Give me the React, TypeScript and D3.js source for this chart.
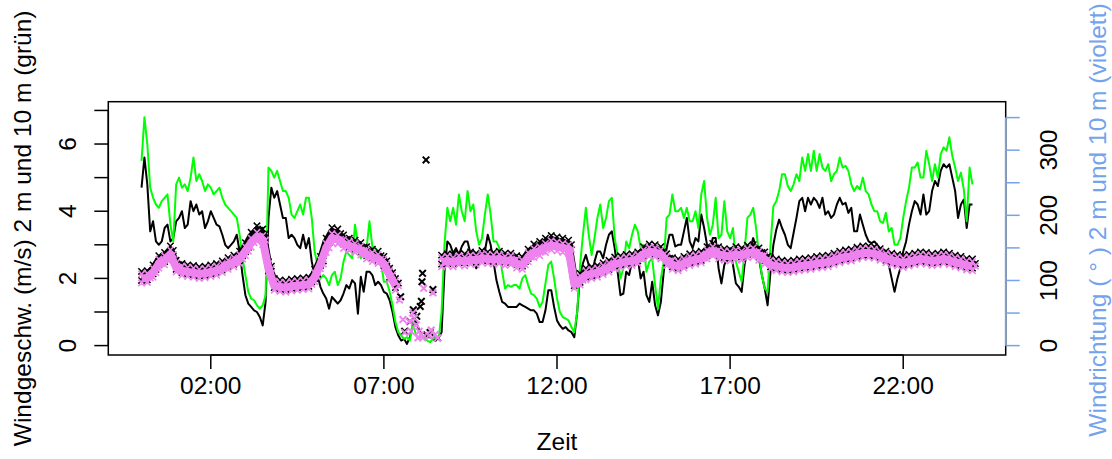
import React from "react";
import * as d3 from "d3";

// Wind speed (m/s), one value every 5 minutes from 00:00 to 24:00
const speedStepMin = 5;
const wind2m: number[] = [
  4.7, 5.6, 4.8, 3.4, 3.7, 3.1, 3.0, 3.1, 3.5, 3.6,
  3.1, 3.2, 3.7, 3.8, 4.0, 3.5, 3.6, 4.3, 4.0, 4.2,
  3.9, 4.0, 3.5, 3.7, 4.0, 3.8, 3.6, 3.55, 3.3, 3.0,
  2.9, 3.0, 3.1, 3.3, 2.8, 2.1, 1.5, 1.25, 1.15, 1.05,
  1.0, 0.85, 0.6, 1.3, 3.8, 4.7, 4.4, 4.6, 4.2, 3.8,
  3.8, 3.2, 3.3, 3.2, 3.0, 2.9, 3.3, 2.9, 3.2, 2.5,
  2.1, 2.1, 1.75, 1.55, 1.4, 1.1, 1.45, 1.35, 1.25, 1.35,
  1.55, 1.8, 1.7, 1.95, 1.85, 0.95, 2.05, 1.6, 2.2, 2.2,
  2.1, 1.8, 1.9, 1.8, 1.6, 1.55, 1.35, 1.0, 0.55, 0.3,
  0.15, 0.2, 0.05, 0.25, 0.6, 0.75, 0.5, 0.35, 0.4, 0.25,
  0.25, 0.2, 0.15, 0.25, 0.4, 2.2, 3.1, 3.0, 2.75, 2.9,
  2.7, 2.95, 3.1, 3.1, 2.75, 2.8, 2.3, 2.5, 2.7, 2.8,
  3.3, 3.0, 2.5, 1.95, 1.6, 1.3, 1.25, 1.15, 1.15, 1.15,
  1.15, 1.25, 1.2, 1.15, 1.1, 1.05, 1.05, 0.95, 0.7, 0.7,
  1.05, 1.65, 1.65, 1.15, 0.75, 0.6, 0.5, 0.55, 0.45, 0.4,
  0.25, 1.0, 2.1, 2.45, 2.7, 2.4, 2.0, 2.5, 2.8, 2.8,
  2.6, 3.0, 3.3, 3.4, 2.9, 2.2, 1.5, 1.55, 2.2, 2.1,
  2.5, 2.7, 2.6, 2.0, 2.2, 1.5, 1.3, 1.9, 1.2, 0.9,
  1.3, 2.2, 2.9, 3.3, 3.3, 2.95, 3.0, 3.0, 3.4, 3.8,
  3.1, 2.9, 3.2, 3.1, 3.9, 3.5, 3.0, 2.85, 3.2, 3.2,
  2.3, 1.85, 2.4, 2.6, 2.9, 2.4, 1.85, 1.75, 1.6, 2.4,
  2.85, 2.9, 3.2, 2.9, 2.6, 2.1, 1.7, 1.2, 2.2, 3.0,
  3.45, 3.75, 3.5, 3.3, 3.0, 2.9, 3.35, 3.8, 4.3, 4.4,
  4.0, 4.4, 4.2, 4.4, 4.3, 4.1, 4.4, 3.9, 4.0, 3.8,
  3.9, 4.2, 4.4, 4.2, 4.25, 3.95, 4.1, 3.4, 3.4, 3.9,
  3.6, 3.3, 3.1, 3.05, 3.1, 3.0, 2.9, 2.8, 2.6, 2.4,
  2.0, 1.6, 2.0, 2.3, 2.8, 3.1, 3.6, 4.0, 4.3, 4.2,
  3.9, 4.5, 3.9, 4.0, 4.6, 4.9, 4.75, 5.2, 5.4, 5.3,
  5.4, 5.0, 4.6, 3.8, 4.2, 4.35, 3.5, 4.2, 4.2,
];
const wind10m: number[] = [
  5.5, 6.8, 6.0, 4.7, 4.4, 4.2, 4.1, 4.3, 4.4, 4.5,
  3.6, 3.1, 4.8, 5.0, 4.7, 4.8, 4.6, 5.0, 5.6, 4.9,
  5.1, 4.9, 4.6, 4.8, 4.7, 4.5, 4.6, 4.7, 4.4, 4.2,
  4.1, 4.0, 3.9, 3.8, 3.3, 2.6, 2.1, 1.6, 1.4, 1.35,
  1.2, 1.1, 1.2, 1.5, 5.3, 5.2, 5.0, 5.2, 4.9, 4.6,
  4.6, 4.4, 3.9, 3.8, 4.0, 4.2, 3.9, 4.4, 4.4, 3.8,
  2.8, 2.4, 2.0, 2.1, 2.0, 1.8, 2.1, 2.2, 1.8, 2.0,
  2.5, 2.8, 2.7, 2.6, 3.6, 3.0, 2.6, 3.0, 2.9, 3.7,
  2.95, 2.9, 2.8, 2.5, 1.9, 1.9, 1.6, 1.2, 0.7, 0.4,
  0.3, 0.2, 0.25, 0.15, 0.7, 0.35, 0.2, 0.3, 0.25, 0.15,
  0.1, 0.2, 0.3, 0.2, 1.0, 3.0, 4.1, 3.7, 4.1, 3.6,
  4.5, 4.0, 3.7, 4.6, 4.0, 4.2, 3.4, 3.0, 3.2, 3.9,
  4.5, 3.9, 3.1, 3.1, 2.9, 2.2, 1.7, 1.8, 1.75, 1.8,
  1.8, 1.7, 2.0, 2.1, 1.8, 1.55, 1.5, 1.4, 1.15, 1.3,
  1.85, 2.4, 2.5, 2.0, 1.4, 1.0, 0.85, 0.8, 0.75, 0.55,
  0.4, 1.0, 2.4, 3.3, 4.1, 3.3, 2.7, 3.2, 3.8, 4.2,
  3.5, 3.8, 4.3, 4.4, 3.2, 2.7, 2.0, 2.3, 3.1, 2.9,
  3.3, 3.6, 3.4, 2.9, 3.0, 2.2, 2.5, 2.6, 1.8, 1.1,
  2.0, 2.5, 3.8, 3.9, 4.5, 4.0, 4.0, 4.1, 3.8, 4.1,
  3.7, 3.7, 4.0, 3.5, 4.5, 4.9, 3.8, 3.3, 3.6, 4.4,
  3.2, 3.3, 4.3, 3.4, 3.2, 3.5, 2.5, 2.2, 1.9, 2.8,
  3.8, 3.9, 4.1, 3.5, 2.7, 2.1, 1.7, 1.6, 3.0, 4.15,
  4.3, 4.6, 5.1, 5.1, 4.75, 4.6, 4.8, 5.1, 4.9, 5.6,
  5.2, 5.7, 5.2, 5.8, 5.2, 5.7, 5.3, 5.2, 5.4, 4.9,
  5.1, 5.2, 5.6, 5.3, 5.35, 5.2, 4.8, 4.6, 4.75, 4.65,
  5.0, 4.6, 4.5, 4.2, 4.0, 4.0, 3.7, 3.65, 3.95, 3.4,
  3.5, 3.0, 3.0, 3.2, 3.8, 4.3, 4.7, 5.3, 5.3, 5.45,
  5.0, 5.0, 5.8, 5.4, 4.9, 5.4, 5.0, 5.7, 5.9, 5.8,
  6.2, 5.65, 5.3, 4.9, 5.15, 4.65, 3.7, 5.3, 4.8,
];

// Wind direction (degrees), one value every 10 minutes; null = scattered period
const dirStepMin = 10;
const dir2m: (number | null)[] = [
  107, 108, 117, 131, 136, 146, 124, 119, 117, 116,
  114, 115, 117, 119, 123, 128, 132, 138, 151, 167,
  177, 172, 122, 96, 94, 93, 95, 96, 97, 98,
  110, 130, 158, 174, 172, 163, 158, 155, 151, 145,
  141, 138, 130, 112, 96, null, null, null, null, null,
  null, null, 132, 134, 133, 135, 134, 137, 135, 139,
  137, 136, 138, 135, 135, 131, 129, 141, 149, 153,
  158, 162, 160, 158, 155, 99, 104, 112, 114, 116,
  120, 124, 129, 131, 133, 134, 137, 145, 149, 148,
  145, 134, 128, 126, 130, 134, 136, 138, 145, 150,
  145, 142, 141, 145, 143, 147, 148, 143, 137, 128,
  126, 124, 123, 124, 126, 127, 128, 130, 131, 132,
  135, 138, 140, 141, 144, 146, 146, 145, 142, 138,
  135, 133, 131, 133, 135, 137, 136, 134, 135, 137,
  135, 132, 130, 127, 126,
];
const dir10m: (number | null)[] = [
  103, 104, 112, 126, 131, 140, 120, 115, 113, 112,
  110, 111, 113, 115, 119, 124, 128, 133, 145, 158,
  167, 162, 118, 92, 90, 89, 91, 92, 93, 94,
  105, 125, 150, 165, 163, 156, 153, 150, 146, 140,
  136, 133, 125, 108, 92, null, null, null, null, null,
  null, null, 128, 130, 128, 131, 129, 132, 131, 134,
  133, 132, 133, 130, 131, 126, 124, 136, 142, 145,
  150, 154, 152, 150, 148, 95, 100, 108, 110, 112,
  116, 120, 125, 127, 129, 130, 133, 140, 144, 143,
  140, 130, 124, 122, 126, 130, 132, 134, 140, 145,
  140, 138, 137, 140, 138, 142, 143, 138, 132, 124,
  122, 120, 119, 120, 122, 123, 124, 126, 127, 128,
  131, 134, 136, 137, 140, 142, 142, 141, 138, 134,
  131, 129, 127, 129, 131, 133, 132, 130, 131, 133,
  131, 128, 126, 123, 122,
];

// Individual direction readings during the calm period
const scatter2mTime = ["07:29", "07:36", "07:45", "07:51", "07:57", "08:03", "08:05", "08:06", "08:07", "08:13", "08:20", "08:25", "08:33"];
const scatter2mDir = [75, 22, 37, 55, 45, 60, 68, 98, 111, 285, 20, 86, 12];
const scatter10mTime = ["07:27", "07:33", "07:36", "07:44", "07:47", "07:50", "07:53", "07:56", "07:59", "08:01", "08:04", "08:07", "08:09", "08:18", "08:22", "08:25", "08:29", "08:33"];
const scatter10mDir = [70, 40, 20, 37, 22, 50, 42, 32, 12, 22, 17, 12, 88, 15, 24, 81, 17, 12];

const xTickLabels = ["02:00", "07:00", "12:00", "17:00", "22:00"];
const leftTicks = [0, 1, 2, 3, 4, 5, 6, 7];
const leftLabels = [0, 2, 4, 6];
const rightTicks = [0, 50, 100, 150, 200, 250, 300, 350];
const rightLabels = [0, 100, 200, 300];

const FONT = "'Liberation Sans', Arial, Helvetica, sans-serif";
const FS = 24.5;
const DIR_COLOR = "#74a3ee";

const toMin = (s: string) => {
  const [h, m] = s.split(":").map(Number);
  return h * 60 + m;
};

function crossPath(pts: [number, number][], r: number) {
  return pts
    .map(([cx, cy]) => `M${cx - r},${cy - r}L${cx + r},${cy + r}M${cx - r},${cy + r}L${cx + r},${cy - r}`)
    .join("");
}

export default function App() {
  const W = 1112;
  const H = 459;
  const L = 108.3, R = 1005.7, T = 101.7, B = 355;

  const x = d3.scaleLinear().domain([-57.6, 1497.6]).range([L, R]);
  const yL = d3.scaleLinear().domain([-0.28, 7.26]).range([B, T]);
  const yR = d3.scaleLinear().domain([-14.4, 374.4]).range([B, T]);

  const speedLine = d3
    .line<number>()
    .x((_, i) => x(i * speedStepMin))
    .y((d) => yL(d));

  const dirLine = d3
    .line<number | null>()
    .defined((d) => d !== null)
    .x((_, i) => x(i * dirStepMin))
    .y((d) => yR(d as number));

  const bandMarks = (arr: (number | null)[]) => {
    const pts: [number, number][] = [];
    arr.forEach((d, i) => {
      if (d === null) return;
      const cx = x(i * dirStepMin);
      const cy = yR(d);
      pts.push([cx, cy - 4.5]);
      pts.push([cx, cy + 4.5]);
      pts.push([cx + 2.9, cy]);
    });
    return crossPath(pts, 3.2);
  };

  const scatterMarks = (times: string[], dirs: number[]) =>
    crossPath(
      times.map((t, i) => [x(toMin(t)), yR(dirs[i])] as [number, number]),
      3.3
    );

  const xTickVals = xTickLabels.map(toMin);

  return (
    <svg
      width={W}
      height={H}
      style={{ position: "absolute", left: 0, top: 0, background: "#fff" }}
      fontFamily={FONT}
    >
      <rect x={0} y={0} width={W} height={H} fill="#fff" />

      {/* wind speed lines */}
      <path d={speedLine(wind2m) || ""} fill="none" stroke="#000" strokeWidth={2} strokeLinejoin="round" />
      <path d={speedLine(wind10m) || ""} fill="none" stroke="#00ff00" strokeWidth={2} strokeLinejoin="round" />

      {/* wind direction: 2 m (black) under 10 m (violet) */}
      <path d={dirLine(dir2m) || ""} fill="none" stroke="#000" strokeWidth={8} strokeLinejoin="round" />
      <path d={bandMarks(dir2m)} fill="none" stroke="#000" strokeWidth={1.5} />
      <path d={scatterMarks(scatter2mTime, scatter2mDir)} fill="none" stroke="#000" strokeWidth={2} />
      <path d={dirLine(dir10m) || ""} fill="none" stroke="#ee82ee" strokeWidth={8} strokeLinejoin="round" />
      <path d={bandMarks(dir10m)} fill="none" stroke="#ee82ee" strokeWidth={1.6} />
      <path d={scatterMarks(scatter10mTime, scatter10mDir)} fill="none" stroke="#ee82ee" strokeWidth={2} />

      {/* box */}
      <rect x={L} y={T} width={R - L} height={B - T} fill="none" stroke="#000" strokeWidth={1.5} />

      {/* x axis */}
      <line x1={x(xTickVals[0])} x2={x(xTickVals[xTickVals.length - 1])} y1={B} y2={B} stroke="#000" strokeWidth={1.5} />
      {xTickVals.map((v, i) => (
        <g key={"xt" + i}>
          <line x1={x(v)} x2={x(v)} y1={B} y2={B + 14} stroke="#000" strokeWidth={1.5} />
          <text x={x(v)} y={385} dy="0.35em" textAnchor="middle" fontSize={FS}>
            {xTickLabels[i]}
          </text>
        </g>
      ))}
      <text x={(L + R) / 2} y={441} dy="0.35em" textAnchor="middle" fontSize={FS}>
        Zeit
      </text>

      {/* left axis */}
      <line x1={L} x2={L} y1={yL(0)} y2={yL(7)} stroke="#000" strokeWidth={1.5} />
      {leftTicks.map((v) => (
        <line key={"lt" + v} x1={L - 14} x2={L} y1={yL(v)} y2={yL(v)} stroke="#000" strokeWidth={1.5} />
      ))}
      {leftLabels.map((v) => (
        <text
          key={"ll" + v}
          transform={`translate(67,${yL(v)}) rotate(-90)`}
          dy="0.35em"
          textAnchor="middle"
          fontSize={FS}
        >
          {v}
        </text>
      ))}
      <text transform={`translate(22,${(T + B) / 2}) rotate(-90)`} dy="0.35em" textAnchor="middle" fontSize={FS}>
        Windgeschw. (m/s) 2 m und 10 m (grün)
      </text>

      {/* right axis */}
      <line x1={R} x2={R} y1={yR(0)} y2={yR(350)} stroke={DIR_COLOR} strokeWidth={1.5} />
      {rightTicks.map((v) => (
        <line key={"rt" + v} x1={R} x2={R + 14} y1={yR(v)} y2={yR(v)} stroke={DIR_COLOR} strokeWidth={1.5} />
      ))}
      {rightLabels.map((v) => (
        <text
          key={"rl" + v}
          transform={`translate(1048,${yR(v)}) rotate(-90)`}
          dy="0.35em"
          textAnchor="middle"
          fontSize={FS}
        >
          {v}
        </text>
      ))}
      <text
        transform={`translate(1097,220) rotate(-90)`}
        dy="0.35em"
        textAnchor="middle"
        fontSize={FS}
        fill={DIR_COLOR}
      >
        Windrichtung ( ° ) 2 m und 10 m (violett)
      </text>
    </svg>
  );
}
